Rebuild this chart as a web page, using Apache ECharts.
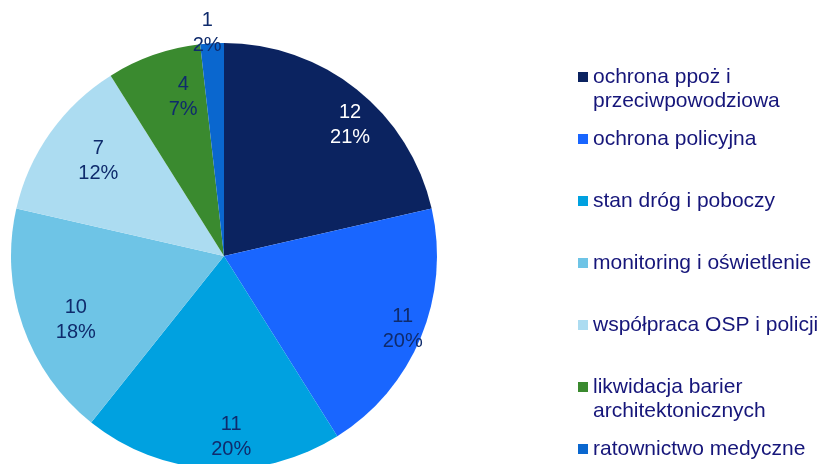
<!DOCTYPE html>
<html>
<head>
<meta charset="utf-8">
<script src="https://cdn.jsdelivr.net/npm/echarts@6/dist/echarts.min.js"></script>
<style>
	html, body { margin: 0; padding: 0; background: #fff; }
	#chart { width: 824px; height: 464px; }
</style>
</head>
<body>
<div id="chart"></div>
<script>
// kategorie i liczby odpowiedzi
const categories = [
	'ochrona ppoż i\nprzeciwpowodziowa',
	'ochrona policyjna',
	'stan dróg i poboczy',
	'monitoring i oświetlenie',
	'współpraca OSP i policji',
	'likwidacja barier\narchitektonicznych',
	'ratownictwo medyczne'
]
const counts = [12, 11, 11, 10, 7, 4, 1]

const sliceColors = ['#0b2360', '#1966ff', '#00a1e0', '#6ec4e6', '#acdcf1', '#3a8a2f', '#0a67cf']

const font = 'Liberation Sans, Arial, sans-serif'
const chart = echarts.init(document.getElementById('chart'))

const pieData = categories.map((name, i) => ({ name, value: counts[i] }))

// etykiety na osobnym, przezroczystym pierścieniu (żeby leżały bliżej krawędzi)
const labelData = categories.map((name, i) => {
	const item = { name, value: counts[i] }
	if (i === 0) item.label = { color: '#ffffff' }
	if (i === categories.length - 1) item.label = { offset: [-7, -48] }
	return item
})

const option = {
	backgroundColor: '#ffffff',
	animation: false,
	color: sliceColors,
	legend: {
		type: 'plain',
		orient: 'vertical',
		left: 578,
		top: 41,
		height: 600,
		padding: 0,
		itemWidth: 10,
		itemHeight: 10,
		itemGap: -10,
		icon: 'rect',
		// 3 linie na pozycję: pusta, nazwa, (druga linia nazwy) -> kwadrat przy pierwszej linii
		formatter: (name) => ' \n' + (name.includes('\n') ? name : name + '\n '),
		textStyle: {
			fontFamily: font,
			fontSize: 21,
			lineHeight: 24,
			color: '#16167a'
		},
		data: categories
	},
	series: [
		{
			type: 'pie',
			center: [224, 256],
			radius: 213,
			startAngle: 90,
			label: { show: false },
			labelLine: { show: false },
			data: pieData
		},
		{
			type: 'pie',
			center: [224, 256],
			radius: [140, 204],
			startAngle: 90,
			silent: true,
			percentPrecision: 0,
			itemStyle: { color: 'rgba(0,0,0,0)' },
			label: {
				show: true,
				position: 'inside',
				formatter: '{c}\n{d}%',
				fontFamily: font,
				fontSize: 20,
				lineHeight: 25,
				color: '#0f2b6c',
				offset: [17, 6]
			},
			labelLine: { show: false },
			data: labelData
		}
	]
}

chart.setOption(option)
</script>
</body>
</html>
